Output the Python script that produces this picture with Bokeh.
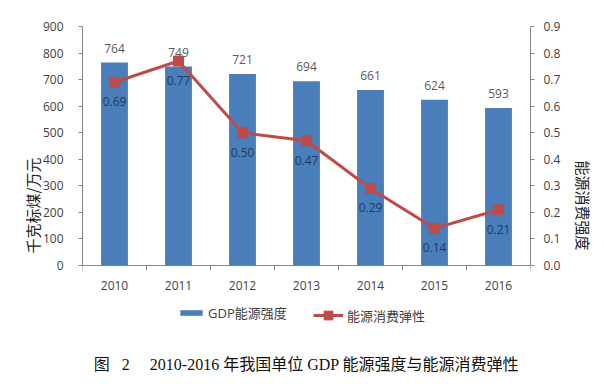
from bokeh.plotting import figure
from bokeh.models import (Range1d, LinearAxis, FixedTicker, NumeralTickFormatter,
                          Legend, LegendItem, Label, ColumnDataSource)
from bokeh.core.properties import value
from bokeh.embed import file_html
from bokeh.resources import INLINE

years = ["2010", "2011", "2012", "2013", "2014", "2015", "2016"]
intensity = [764, 749, 721, 694, 661, 624, 593]
elasticity = [0.69, 0.77, 0.50, 0.47, 0.29, 0.14, 0.21]
left_ticks = [0, 100, 200, 300, 400, 500, 600, 700, 800, 900]
right_ticks = [0.0, 0.1, 0.2, 0.3, 0.4, 0.5, 0.6, 0.7, 0.8, 0.9]

BAR = "#4A7EBB"
LINE = "#BE4B48"
AXIS = "#868686"
TICKFONT = "Open Sans"
CJK = "Open Sans, Noto Sans CJK SC"

# layout (pixels): plot frame extends below the zero line so that the legend
# and caption live inside it; the axes are bounded to the data span.
W, H = 604, 384
TOP, ZERO = 26, 265
px_per_unit = (ZERO - TOP) / (left_ticks[-1] - left_ticks[0])
below = (H - ZERO) / px_per_unit
ratio = right_ticks[-1] / left_ticks[-1]

xpos = [i + 0.5 for i in range(len(years))]
src = ColumnDataSource(dict(
    x=xpos, gdp=intensity, el=elasticity,
    gdp_lbl=[str(v) for v in intensity],
    el_lbl=["%.2f" % v for v in elasticity],
))

p = figure(width=W, height=H, x_range=Range1d(0, len(years)),
           y_range=Range1d(-below, left_ticks[-1]),
           output_backend="svg", toolbar_location=None,
           min_border_left=82, min_border_right=74, min_border_top=TOP,
           min_border_bottom=0)
p.extra_y_ranges = {"r": Range1d(-below * ratio, right_ticks[-1])}
p.outline_line_color = None
p.xgrid.grid_line_color = None
p.ygrid.grid_line_color = None
p.background_fill_color = "white"
p.border_fill_color = "white"

# x axis, fixed at zero
xa = p.xaxis[0]
xa.fixed_location = 0
xa.ticker = FixedTicker(ticks=xpos, minor_ticks=list(range(len(years) + 1)))
xa.major_label_overrides = {x: y for x, y in zip(xpos, years)}
xa.major_tick_line_color = None
xa.major_tick_out = 0
xa.major_tick_in = 0
xa.minor_tick_line_color = AXIS
xa.minor_tick_out = 5
xa.minor_tick_in = 0
xa.axis_line_color = AXIS
xa.major_label_standoff = 10
xa.major_label_text_font = TICKFONT
xa.major_label_text_font_size = "12px"
xa.major_label_text_color = "#404040"

# left axis
ya = p.yaxis[0]
ya.bounds = (left_ticks[0], left_ticks[-1])
ya.ticker = FixedTicker(ticks=left_ticks)
ya.axis_line_color = AXIS
ya.major_tick_line_color = AXIS
ya.major_tick_out = 4
ya.major_tick_in = 0
ya.minor_tick_line_color = None
ya.major_label_standoff = 15
ya.major_label_text_font = TICKFONT
ya.major_label_text_font_size = "12px"
ya.major_label_text_color = "#404040"
ya.axis_label = "千克标煤/万元"
ya.axis_label_text_font = "Noto Sans CJK SC"
ya.axis_label_text_font_style = "normal"
ya.axis_label_text_font_size = "15px"
ya.axis_label_text_color = "#202020"
ya.axis_label_standoff = -3

# right axis
ra = LinearAxis(y_range_name="r", ticker=FixedTicker(ticks=right_ticks),
                formatter=NumeralTickFormatter(format="0.0"),
                bounds=(right_ticks[0], right_ticks[-1]))
ra.axis_line_color = AXIS
ra.major_tick_line_color = AXIS
ra.major_tick_out = 4
ra.major_tick_in = 0
ra.minor_tick_line_color = None
ra.major_label_standoff = 9
ra.major_label_text_font = TICKFONT
ra.major_label_text_font_size = "12px"
ra.major_label_text_color = "#404040"
ra.axis_label = "能源消费强度"
ra.axis_label_text_font = "Noto Sans CJK SC"
ra.axis_label_text_font_style = "normal"
ra.axis_label_text_font_size = "15px"
ra.axis_label_text_color = "#202020"
ra.axis_label_standoff = 10
p.add_layout(ra, "right")

# bars
bars = p.vbar(x="x", top="gdp", bottom=0, width=0.42, source=src,
              fill_color=BAR, line_color=None)
p.text(x="x", y="gdp", text="gdp_lbl", source=src, text_align="center",
       text_baseline="bottom", y_offset=-10, text_font=value(TICKFONT),
       text_font_size="12px", text_color="#595959")

# line
ln = p.line(x="x", y="el", source=src, y_range_name="r", line_color=LINE,
            line_width=3)
mk = p.scatter(x="x", y="el", source=src, y_range_name="r", marker="square",
               size=10, fill_color=LINE, line_color=LINE)
p.text(x="x", y="el", text="el_lbl", source=src, y_range_name="r",
       text_align="center", text_baseline="top", y_offset=15,
       text_font=value(TICKFONT), text_font_size="12px", text_color="#1F3A5F")

# legends
leg1 = Legend(items=[LegendItem(label="GDP能源强度", renderers=[bars])],
              location=(95, 62), orientation="horizontal",
              glyph_width=28, glyph_height=7, label_standoff=3, padding=0,
              margin=0, spacing=0, border_line_color=None,
              background_fill_alpha=0, label_text_font=CJK,
              label_text_font_size="13px", label_text_color="#404040",
              label_height=7)
leg2 = Legend(items=[LegendItem(label="能源消费弹性", renderers=[ln, mk])],
              location=(231, 58), orientation="horizontal",
              glyph_width=30, glyph_height=22, label_standoff=4, padding=0,
              margin=0, spacing=0, border_line_color=None,
              background_fill_alpha=0, label_text_font=CJK,
              label_text_font_size="13px", label_text_color="#404040")
p.add_layout(leg1)
p.add_layout(leg2)

# caption
cap = Label(x=len(years) / 2, y=-99 / px_per_unit,
            text="图\u00a0\u00a0\u00a02\u00a0\u00a0\u00a0\u00a0\u00a02010-2016 年我国单位 GDP 能源强度与能源消费弹性",
            text_align="center", text_baseline="middle",
            text_font="Liberation Serif, Noto Sans CJK SC", text_font_size="16px",
            text_color="#111111")
p.add_layout(cap)

open("out.html", "w").write(file_html(p, INLINE))
